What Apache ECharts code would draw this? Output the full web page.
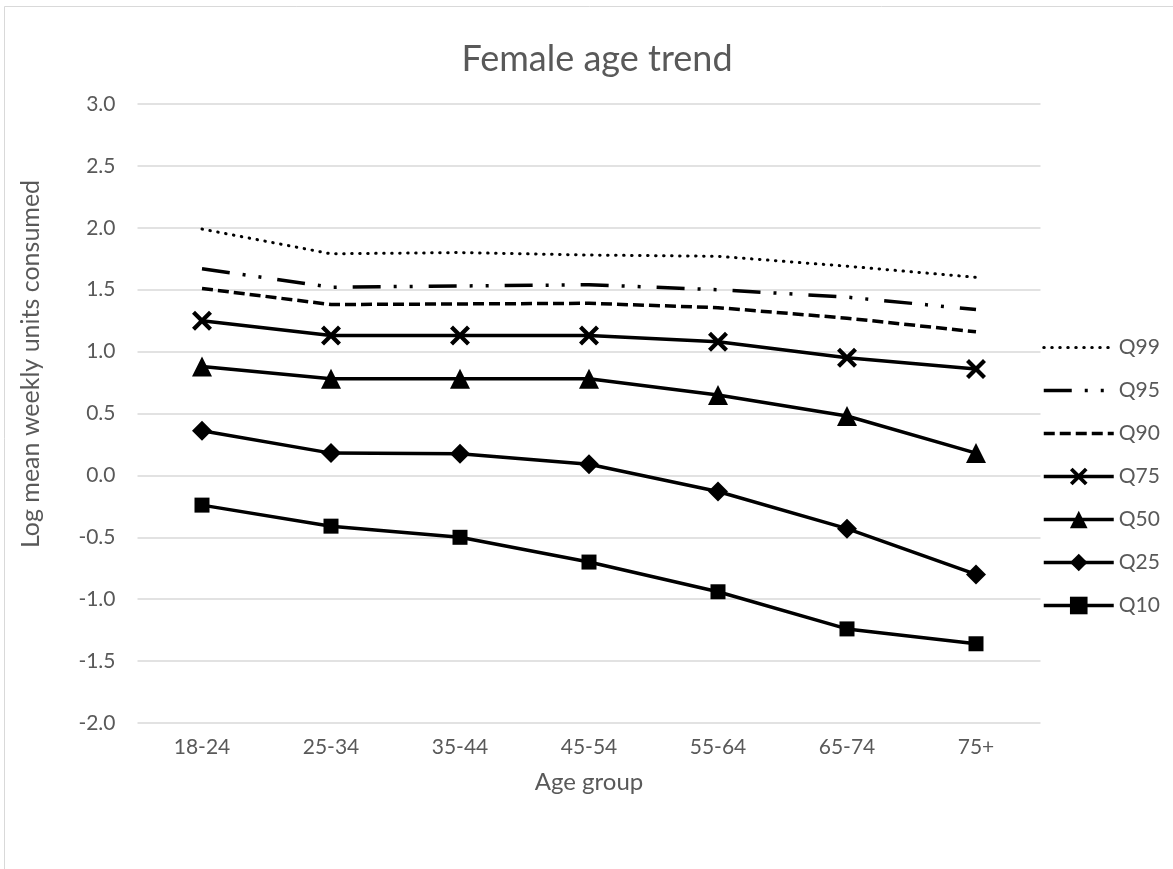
<!DOCTYPE html>
<html>
<head>
<meta charset="utf-8">
<script src="https://cdn.jsdelivr.net/npm/echarts@6/dist/echarts.min.js"></script>
<style>
html,body{margin:0;padding:0;background:#fff;}
#chart{width:1173px;height:869px;}
</style>
</head>
<body>
<div id="chart"></div>
<script>
const categories = ['18-24','25-34','35-44','45-54','55-64','65-74','75+'];
const seriesNames = ['Q99','Q95','Q90','Q75','Q50','Q25','Q10'];
const q99 = [1.99, 1.79, 1.80, 1.78, 1.77, 1.69, 1.60];
const q95 = [1.67, 1.52, 1.53, 1.54, 1.50, 1.44, 1.34];
const q90 = [1.51, 1.38, 1.385, 1.39, 1.355, 1.27, 1.16];
const q75 = [1.25, 1.13, 1.13, 1.13, 1.08, 0.95, 0.86];
const q50 = [0.88, 0.78, 0.78, 0.78, 0.65, 0.48, 0.18];
const q25 = [0.36, 0.18, 0.175, 0.09, -0.13, -0.43, -0.80];
const q10 = [-0.24, -0.41, -0.50, -0.70, -0.94, -1.24, -1.36];
const yTicks = [-2.0, -1.5, -1.0, -0.5, 0.0, 0.5, 1.0, 1.5, 2.0, 2.5, 3.0];
const yAxisTitle = 'Log mean weekly units consumed';

const FONT = 'Lato, "Open Sans", sans-serif';
const TXT = '#595959';
const crossPath = 'path://M0,3 L3,0 L10,7 L17,0 L20,3 L13,10 L20,17 L17,20 L10,13 L3,20 L0,17 L7,10 Z';

const styles = {
  Q99: {type: [0.5, 7.5], cap: 'round', width: 3},
  Q95: {type: [28, 13, 3, 13, 3, 16], width: 3.5},
  Q90: {type: [11, 5], width: 3.5},
  Q75: {width: 3.5}, Q50: {width: 3.5}, Q25: {width: 3.5}, Q10: {width: 3.5}
};
const noMarker = ['Q99', 'Q95', 'Q90'];

function lineSeries(name, data, symbol, size) {
  return {
    name: name, type: 'line', data: data,
    symbol: symbol || 'none', symbolSize: size || 0,
    showSymbol: !!symbol,
    lineStyle: Object.assign({color: '#000'}, styles[name]),
    itemStyle: {color: '#000'},
    emphasis: {disabled: true},
    animation: false
  };
}

const legendData = seriesNames.map(n => {
  const item = {name: n, lineStyle: Object.assign({color: '#000'}, styles[n])};
  if (noMarker.indexOf(n) >= 0) {
    item.itemStyle = {color: 'rgba(0,0,0,0)', borderColor: 'rgba(0,0,0,0)', borderWidth: 0, opacity: 0};
  }
  return item;
});

const chart = echarts.init(document.getElementById('chart'), null, {renderer: 'canvas'});
chart.setOption({
  backgroundColor: '#fff',
  animation: false,
  title: {
    text: 'Female age trend', left: 592, top: 36, textAlign: 'center',
    textStyle: {fontFamily: FONT, fontSize: 36, fontWeight: 'normal', color: TXT}
  },
  graphic: [{
    type: 'rect', shape: {x: 4.5, y: 6.5, width: 1200, height: 900},
    style: {fill: 'none', stroke: '#d9d9d9', lineWidth: 1}, silent: true, z: -1
  }, {
    type: 'text', x: 31, y: 364, rotation: Math.PI / 2, silent: true,
    style: {text: yAxisTitle, fontFamily: FONT, fontSize: 25, fill: TXT,
      align: 'center', verticalAlign: 'middle'}
  }],
  legend: {
    orient: 'vertical', left: 1037, top: 332,
    itemWidth: 70, itemHeight: 22, itemGap: 22,
    textStyle: {fontFamily: FONT, fontSize: 21, color: TXT},
    data: legendData
  },
  grid: {left: 137.5, right: 132.5, top: 104, bottom: 146, containLabel: false},
  xAxis: {
    type: 'category', data: categories, boundaryGap: true,
    name: 'Age group', nameLocation: 'middle', nameGap: 47,
    nameTextStyle: {fontFamily: FONT, fontSize: 24, color: TXT},
    axisLine: {show: false}, axisTick: {show: false},
    axisLabel: {fontFamily: FONT, fontSize: 21, color: TXT, margin: 14}
  },
  yAxis: {
    type: 'value', min: yTicks[0], max: yTicks[yTicks.length - 1], interval: 0.5,
    axisLine: {show: false}, axisTick: {show: false},
    axisLabel: {fontFamily: FONT, fontSize: 21, color: TXT, margin: 22,
      formatter: v => v.toFixed(1)},
    splitLine: {lineStyle: {color: '#d9d9d9', width: 1.5}}
  },
  series: [
    lineSeries('Q99', q99),
    lineSeries('Q95', q95),
    lineSeries('Q90', q90),
    lineSeries('Q75', q75, crossPath, 20),
    lineSeries('Q50', q50, 'triangle', 20),
    lineSeries('Q25', q25, 'diamond', 20),
    lineSeries('Q10', q10, 'rect', 15)
  ]
});
</script>
</body>
</html>
